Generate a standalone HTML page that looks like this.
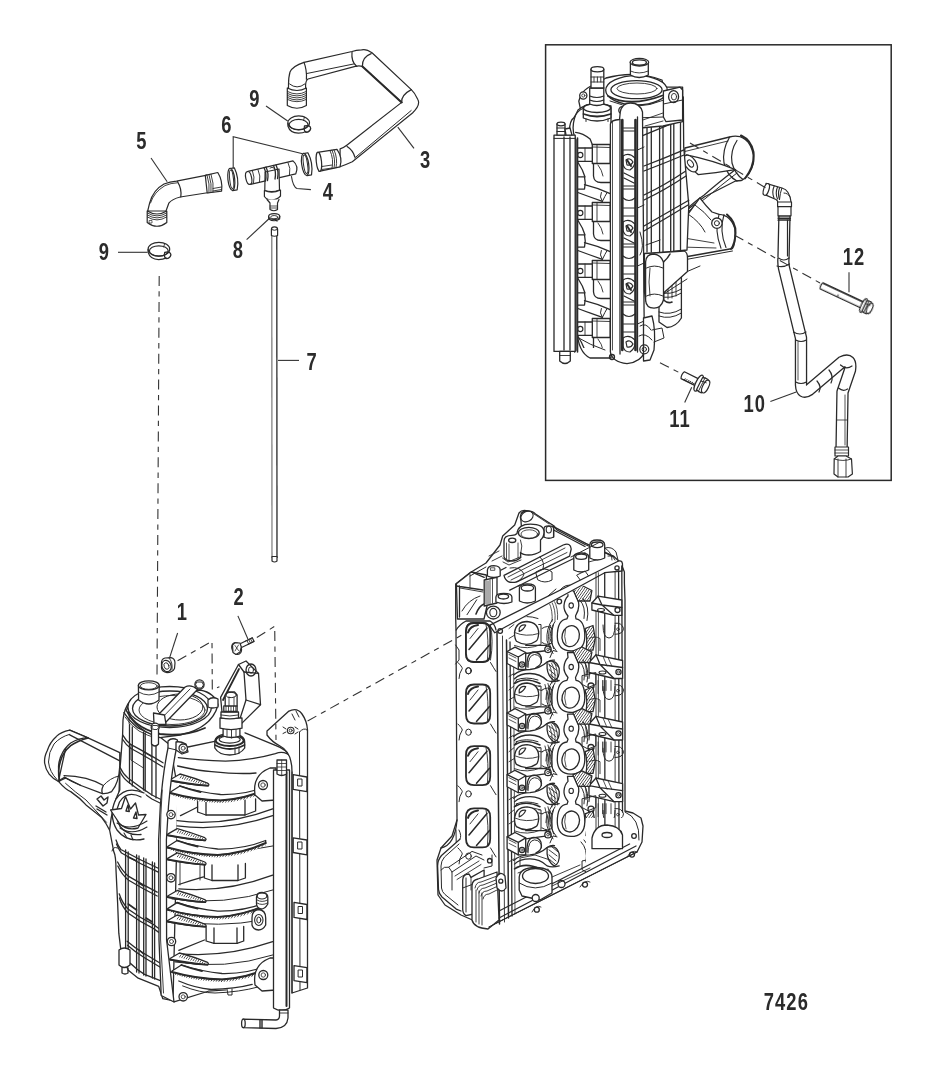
<!DOCTYPE html>
<html><head><meta charset="utf-8">
<style>
html,body{margin:0;padding:0;background:#fff;width:937px;height:1075px;overflow:hidden;}
svg{display:block;}
.lb{font-family:"Liberation Sans",sans-serif;font-weight:bold;font-size:24px;letter-spacing:1.4px;fill:#2b2b2b;filter:grayscale(1);}
.ld{stroke:#333;stroke-width:1.1;fill:none;}
.ds{stroke:#333;stroke-width:1.1;fill:none;stroke-dasharray:10 5.3 5.3 5.3;}
.k{stroke:#2a2a2a;stroke-width:1.2;fill:none;stroke-linejoin:round;stroke-linecap:round;}
.kf{stroke:#2a2a2a;stroke-width:1.2;fill:#fff;stroke-linejoin:round;}
.t{stroke:#333;stroke-width:0.8;fill:none;}
.eng .k,.eng .kf{stroke-width:1.3;}
</style></head>
<body>
<svg width="937" height="1075" viewBox="0 0 937 1075">
<defs><pattern id="hatch" width="2.2" height="2.2" patternUnits="userSpaceOnUse" patternTransform="rotate(35)"><rect width="2.2" height="2.2" fill="#fff"/><line x1="0" y1="0" x2="0" y2="2.2" stroke="#2a2a2a" stroke-width="1.3"/></pattern></defs>
<rect x="0" y="0" width="937" height="1075" fill="#fff"/>
<!-- box -->
<rect x="545.6" y="44.8" width="345.6" height="435.6" fill="none" stroke="#2a2a2a" stroke-width="1.5"/>
<!-- labels -->
<g class="lb">
<text transform="translate(136.3,149.4) scale(0.765,1)">5</text>
<text transform="translate(249.3,106.9) scale(0.765,1)">9</text>
<text transform="translate(221.3,132.6) scale(0.765,1)">6</text>
<text transform="translate(420.1,168.2) scale(0.765,1)">3</text>
<text transform="translate(322.8,199.7) scale(0.765,1)">4</text>
<text transform="translate(232.8,257.7) scale(0.765,1)">8</text>
<text transform="translate(98.8,260.1) scale(0.765,1)">9</text>
<text transform="translate(306.4,369.9) scale(0.765,1)">7</text>
<text transform="translate(176.8,619.9) scale(0.765,1)">1</text>
<text transform="translate(233.6,604.9) scale(0.765,1)">2</text>
<text transform="translate(842.8,265.2) scale(0.765,1)">12</text>
<text transform="translate(743.4,411.9) scale(0.765,1)">10</text>
<text transform="translate(669.3,427.1) scale(0.765,1)">11</text>
<text transform="translate(763.8,1010.1) scale(0.765,1)">7426</text>
</g>
<!-- leaders -->
<g class="ld">
<path d="M151,158 L167.2,181.8"/>
<path d="M118,252.3 L147.5,252.3"/>
<path d="M233.2,168 L233.2,136.6 L302.6,153.8"/>
<path d="M266,106 L287.7,121"/>
<path d="M291.4,176.2 Q293,187 297,188.5 L310.9,189.6"/>
<path d="M269.8,218 L246.6,239.7"/>
<path d="M397.8,127.1 L414,148.4"/>
<path d="M278,360.4 L299,360.4"/>
<path d="M177.6,633 L169.4,658.4"/>
<path d="M237.9,615.9 L247.9,639"/>
<path d="M849,272.3 L849,292.2"/>
<path d="M691.7,387.3 L684.7,402.6"/>
<path d="M770.4,401.4 L796.2,392"/>
</g>

<!-- hose 3 -->
<g class="k">
<path class="kf" d="M340,166.8 Q345,165 352.3,161.7 L412.5,113 Q421,105 417.7,99.2 Q415,93 411.3,89.6 L372,52.8 Q366,48.5 361.6,49.9 Q356,50 352,51.5 L304,62.4 Q292.8,66 290,72 Q288.5,77 288.5,85 L288.5,92 L305.6,92 L305.6,84.8 Q306,80 308,79 L355.2,66.4 Q359,65.5 362.4,66.4 L401.7,102.4 L347.1,145 Q344,147.5 340.1,148.9 Z"/>
<path d="M306.4,73.6 L353.6,64" stroke-width="1"/>
<path d="M304,62.4 Q307,70 306.4,79.2"/>
<path d="M352,52 Q351,62 356.8,66.4"/>
<path d="M371.2,53.6 Q362,57 362.4,66.4"/>
<path d="M411.3,89.6 Q401,95 401.7,102.4"/>
<path d="M347.1,146.4 Q353,150 354.8,157"/>
<path d="M354.8,157.9 L411.2,110.5" stroke-width="1"/>
<path d="M362.4,66.4 L401.7,102.4" stroke-width="2"/>
<path d="M289.6,84 Q297,90 304.8,84" stroke-width="1"/>
<!-- top-left connector -->
<path class="kf" d="M287.3,88 L287.3,105.5 Q297,111 306.4,105.5 L306.4,88 Q297,93 287.3,88 Z"/>
<path d="M287.5,91.5 Q297,96.5 306.2,91.5 M287.5,93.5 Q297,98.5 306.2,93.5 M287.5,95.5 Q297,100.5 306.2,95.5 M287.5,97.5 Q297,102.5 306.2,97.5 M287.5,99.5 Q297,104 306.2,99.5" stroke-width="0.9"/>
<!-- bottom connector -->
<path class="kf" d="M319,152.2 L337,149.4 Q343,158 340,166.8 L319,171.3 Z"/>
<ellipse class="kf" cx="318.9" cy="161.7" rx="2.6" ry="9.7" transform="rotate(-6 318.9 161.7)"/>
<path d="M330,150.5 Q334,159 332,168.7 M332,150.2 Q336,159 334,168.3 M334,149.8 Q338,158.5 336,167.8" stroke-width="0.9"/>
<path d="M322,166.5 L332,165 M322,169.5 L332,168" stroke-width="0.9"/>
</g>
<!-- hose 5 -->
<g class="k">
<path class="kf" d="M147.7,211 L149.6,203.2 Q153,190 164,184 Q170,181.5 176.5,181.1 L207,175.1 L209,192.5 L180.3,197 Q172,199 168.8,203.2 L166,211 Z"/>
<path d="M177.5,181.6 Q182,189 180.8,197"/>
<path d="M150.5,203 Q154,192 165,185.6 Q171,183 177,182.8" stroke-width="0.9"/>
<path class="kf" d="M147.2,211 L147.2,222.5 Q157,230 166.8,222.5 L166.8,211 Q157,217 147.2,211 Z"/>
<path d="M147.4,213 Q157,219 166.6,213 M147.4,215 Q157,221 166.6,215 M147.4,217 Q157,223 166.6,217" stroke-width="0.9"/>
<rect x="149.5" y="220.5" width="2.5" height="2.5" stroke-width="0.7"/>
<path class="kf" d="M205.3,175.4 L217.8,172.5 Q223,181 221.6,191.2 L207.2,193 Z"/>
<path d="M207,175 Q210,184 209,192.8 M209,174.6 Q212,184 211,192.5 M211,174.2 Q214,183 213,192.2" stroke-width="0.9"/>
<path d="M213,188.5 L221.5,187 M213,191 L221.5,189.5" stroke-width="0.9"/>
</g>
<!-- rings 6 -->
<g class="k">
<path class="kf" d="M231,168.2 L235.5,168 Q239.5,179 236,190.3 L231.5,190.5 Z" transform="rotate(-6 233.2 179.3)"/>
<ellipse class="kf" cx="231.3" cy="179.3" rx="3.4" ry="11.1" transform="rotate(-6 231.3 179.3)"/>
<ellipse cx="231.6" cy="179.3" rx="1.9" ry="9.3" transform="rotate(-6 231.6 179.3)" stroke-width="1"/>
<path class="kf" d="M305,153.2 L309.5,153 Q313.5,164 310,175.3 L305.5,175.5 Z" transform="rotate(-8 307.1 164.2)"/>
<ellipse class="kf" cx="305.2" cy="164.3" rx="3.5" ry="11.1" transform="rotate(-8 305.2 164.3)"/>
<ellipse cx="305.5" cy="164.3" rx="2" ry="9.3" transform="rotate(-8 305.5 164.3)" stroke-width="1"/>
</g>
<!-- T fitting 4 -->
<g class="k">
<path class="kf" d="M248,171.4 L293,160.9 Q299,166 295.8,173.8 L250.5,184.3 Z"/>
<ellipse class="kf" cx="248.7" cy="177.9" rx="2.9" ry="6.5" transform="rotate(-12 248.7 177.9)"/>
<path d="M252.5,171 Q255,177 253.5,183.5 M258,169.5 Q261,176 259.5,182.5 M288,162.5 Q291,168 289.5,175" stroke-width="0.9"/>
<path class="kf" d="M265.1,172 L279,169 L279.5,190 Q272,193 264.8,190.5 Z"/>
<path class="kf" d="M264.4,190.5 Q272,194 280.5,190 L280.5,196 Q277,200 272,200 Q267,200 264.4,196.5 Z"/>
<path class="kf" d="M267,199.5 L270,203 L270,209.5 Q274,212 277.5,209.5 L277.5,203 L279,199.5"/>
<path d="M270,206 L277.5,206 M270,208 L277.5,208" stroke-width="0.8"/>
<path d="M264,167.5 Q267,174 265.5,181 M266,167 Q269,173.5 267.5,180.5 M273.5,165.5 Q276.5,172 275,179 M276,165 Q279,171.5 277.5,178.5" stroke-width="1.3"/>
<path d="M270,168 Q272,166.5 274,168" stroke-width="0.9"/>
</g>
<!-- clamps 9 -->
<g class="k" id="clamp9">
<ellipse cx="298.7" cy="122.8" rx="10.8" ry="6.9"/>
<ellipse cx="298.6" cy="124.6" rx="9.4" ry="5.2"/>
<path d="M287.9,123 L287.9,126 Q290,133 298.4,133.2 Q303,133 306,131.5"/>
<path d="M304.5,126 Q310.5,124.5 310.7,128.5 Q310,132 306,132.3 Q303.5,131 304.5,126 Z" stroke-width="1.3"/>
<path d="M304.5,117 L303.5,120.5" stroke-width="0.9"/>
</g>
<use href="#clamp9" transform="translate(-139.8,126.4)"/>
<!-- clamp 8 -->
<g class="k">
<ellipse cx="274.2" cy="216.5" rx="5.6" ry="2.9"/>
<ellipse cx="274.2" cy="217.2" rx="3.6" ry="1.7" stroke-width="0.9"/>
<path d="M268.6,216.5 L268.8,219 Q274,222.5 279.6,219 L279.8,216.5"/>
<path d="M275,218.5 L277,221.5" stroke-width="0.9"/>
</g>
<!-- rod 7 -->
<g>
<path d="M271.8,236 L272,558" stroke="#6a6a6a" stroke-width="1.1" fill="none"/>
<path d="M276.8,236 L277,558" stroke="#2a2a2a" stroke-width="1.3" fill="none"/>
<path d="M271.4,229.5 Q271.4,226.8 274.4,226.8 Q277.6,226.8 277.6,229.5 L277.6,235.5 Q274.4,237 271.4,235.5 Z" class="kf" stroke-width="1.4"/>
<path d="M271.6,229.5 Q274.4,231 277.4,229.5" stroke-width="1" stroke="#2a2a2a" fill="none"/>
<path d="M272,556.5 L272,561 Q274.5,563 277,561 L277,556.5 Z" class="kf" stroke-width="1"/>
</g>
<g class="eng">
<!-- ===== lower-left engine ===== -->
<g class="k" id="engL">
<!-- intake tube + Y neck -->
<path class="kf" d="M58.4,781.4 Q66,790 70.7,791.6 Q80,798 86,804.9 L101.4,817.2 Q106,823 109.5,830 L118,830 L120,760 L119.8,752.7 Z"/>
<path d="M65.6,783.4 Q75,792 86,800 L106.5,822.3" stroke-width="1"/>
<path class="kf" d="M69.7,730.2 L88,737.9 L119.8,752.7 L119.8,766 Q119,783 111.6,791.6 Q107,794 102.4,793.6 L80.9,785.5 L64.5,777.3 Q61,779 58.4,781.4 Z"/>
<path class="kf" d="M69.7,730.2 Q61,732 56.4,736.4 Q50,742 47.2,750.7 Q44,757 44.6,763 Q45.5,769 49.2,774.2 Q53,779 58.4,781.4 Q60,779 59.4,775 Q57,767 60.5,757 Q64,748 70.7,743 Q79,738 88,737.9 Z"/>
<path d="M69.7,734.3 Q60,737 54,744 Q48.5,752 48.5,762 Q49.5,772 57,779.5" stroke-width="1"/>
<path d="M88,737.9 Q77,741 70.7,745.6 Q63,752 60.5,761 Q57.5,770 59.4,781.4" stroke-width="1.6"/>
<path d="M69.7,734.8 L119.8,760.9"/>
<path d="M64,775.7 Q75,776 86,778.3 Q96,781 103.4,785.5 Q101,790 102.4,793.6"/>
<path d="M64.5,777.3 Q72,782 80.9,785.5"/>
<path d="M103.4,785.5 Q110,778 118.7,776" stroke-width="1"/>
<path d="M97,799 L101,796 L104,800 L108,797 L107,803 L103,806 Z M96,806 L106,812 M97,809 L107,815" stroke-width="1.4"/>
<!-- left ribbed body -->
<path class="kf" d="M130.9,700 Q124,708 123,720 L122.6,734.9 L120.5,762.8 L119.8,770 L119.8,790 Q112,805 109.6,830 L113.7,851.4 Q116,856 116,870 L117.6,902.5 L118.8,933.2 L120.8,949.6 L128,970 L138.2,978.2 L158.7,986.4 L162.8,998.7 L173,1000.7 L178,790 L170,745 L160,737 Z"/>
<!-- upper cage -->
<path d="M124,712.6 Q130,722 137.9,727.9 Q147,733 156,734.9"/>
<path d="M125,717 Q131,726 139,731 Q148,736 156,738" stroke-width="0.9"/>
<path d="M122.6,734.9 Q126,741 131,744.7 Q145,752 163,762.8"/>
<path d="M122.3,739 Q126,745 131,748.5 Q145,756 163,767"/>
<path d="M119.8,767 Q123,774 128.2,778.2 Q140,787 151.9,795 L163,800.5"/>
<path d="M119.6,771 Q123,778 128.2,782 Q140,791 151.9,799 L163,804.5"/>
<path d="M129.5,725 L129.5,783 M132.3,727 L132.3,786 M143.5,732 L143.5,790 M145.2,733 L145.2,791 M151.9,735 L151.9,795 M156,737 L156,798"/>
<path d="M131,744.7 L131,760 L143.5,768 M143.5,752 L152,757" stroke-width="0.9"/>
<path d="M130,712 Q128,722 129.5,725" stroke-width="0.9"/>
<!-- lower cage -->
<path d="M116,840 Q118,846 120.8,849.5 Q140,860 158.8,868.5"/>
<path d="M116.5,844 Q119,850 121.5,853 Q140,864 158.8,872.3"/>
<path d="M117.6,862 Q122,871 128.7,876.4 Q143,885 157.2,892.2"/>
<path d="M117.8,866 Q122,875 128.7,880.3 Q143,889 157.2,896"/>
<path d="M119.2,893.8 Q122,903 128.7,909.6 Q140,918 152.4,923.8 L158.8,928.5"/>
<path d="M119.5,898 Q122,907 128.7,913.6 Q140,922 152.4,927.8 L158.8,932.4"/>
<path d="M127.1,941.2 Q135,948 144.5,953.8 L160.3,963.3"/>
<path d="M127.5,945.3 Q135,952 144.5,957.8 L160.3,967.3"/>
<path d="M130.3,963.3 Q137,970 144.5,974.4 L160.3,980.7"/>
<path d="M125.6,850 L125.6,965 M128.2,852 L128.2,966"/>
<path d="M136.6,855 L136.6,972 M139,856 L139,973"/>
<path d="M143.7,858 L143.7,975 M146,859 L146,976"/>
<path d="M152.4,862 L152.4,978 M154.6,863 L154.6,979"/>
<path d="M128.2,857 L136.6,861 M139,883 L143.7,886 M128.2,904 L136.6,910 M146,918 L152.4,922 M139,950 L143.7,954" stroke-width="1.6"/>
<path d="M117.5,848 Q113,846 112,851" stroke-width="1"/>
<!-- logo -->
<path class="kf" d="M145,793 Q126,784 116,799 Q108,815 117,830 Q127,843 145,839 Q155,825 150,805 Z" style="stroke:none"/>
<path d="M144,793 Q126,785 116,799 Q108,815 117,830 Q127,843 144,839"/>
<path d="M141,797 Q127,790 119.5,802 Q113.5,815 120,826.5 Q128,836 141,834.5"/>
<path class="kf" d="M110.5,810 L121.5,808.5 L125.5,796.5 L130.5,809 L135.5,803 L138.5,815 L146,814.5 L138,828 Q127,831 119.5,823.5 Z" stroke-width="1.1"/>
<path d="M126,811 L128,805 L129.3,811.5 Z M133.5,818 L136,812 L137,818.5 Z" stroke-width="1.4"/>
<path d="M117,823 Q130,832 147,821 M120,828 Q132,836 147,827 M124,833 L127,838 M131,835 L133,840" stroke-width="1.1"/>
<!-- fitting lower left -->
<path class="kf" d="M119,950 L119,965 Q124,970 130,965 L130,950 Q124,946 119,950 Z"/>
<path d="M122,968 L122,973 Q125,975 128,973 L128,968"/>
<!-- dome / top cover -->
<path class="kf" d="M126.4,710.8 Q130,698 142,694 L200,690 Q215,693 218,705 Q212,728 180,735 L160,737.7 Q135,730 126.4,710.8 Z"/>
<ellipse class="kf" cx="169.7" cy="707" rx="41.8" ry="20.5"/>
<ellipse cx="170" cy="708.5" rx="37.5" ry="17.5"/>
<ellipse cx="172" cy="710" rx="33" ry="14.5" stroke-width="0.9"/>
<ellipse cx="180" cy="707" rx="23" ry="13" stroke-width="1"/>
<path d="M128,712 Q135,728 160,734 Q185,737 205,728" stroke-width="1.8"/>
<!-- strap across cap -->
<path class="kf" d="M154.2,719 L185.1,687 Q191,684 197.5,689.5 L164.8,723.2 Z"/>
<path d="M158.5,721.5 L190,689" stroke-width="0.9"/>
<path class="kf" d="M153.5,713 L164.5,715 L166,724.3 L154,724.3 Z" stroke-width="1.1"/>
<circle class="kf" cx="199.5" cy="684.5" r="4.6"/>
<path d="M197,682 L202,682 L203.5,685 L201.5,688 L197.5,688 L195.8,685 Z" stroke-width="1"/>
<circle class="kf" cx="155.2" cy="727.2" r="4"/>
<path d="M153,725.5 L157.5,725.5 L158.5,727.5 L157,729.5 L153.5,729.5 L152.2,727.5 Z" stroke-width="0.9"/>
<path class="kf" d="M151.5,730 L151.5,744 Q155,748 158.5,744 L158.5,730"/>
<!-- nipple -->
<path class="kf" d="M138.4,685.4 L138.6,700 Q149,708 159,700 L159.2,685.4 Z"/>
<ellipse class="kf" cx="148.8" cy="685.4" rx="10.4" ry="4.5"/>
<ellipse cx="148.8" cy="686" rx="8.4" ry="3.3" stroke-width="0.9"/>
<path d="M138.6,692 Q149,698 159,692" stroke-width="0.9"/>
<!-- bracket for bolt 2 -->
<path class="kf" d="M220.6,697.4 L238.5,664.5 L246,661 L258.5,673.4 L260.5,704.7 L248.8,716.4 L237,728 L222,712 Z"/>
<path d="M238.5,664.5 L244,672 L246,700 L237,728" />
<path d="M244,672 L258.5,673.4 M246,700 L260.5,704.7"/>
<ellipse cx="251" cy="670" rx="5" ry="6"/>
<ellipse cx="251" cy="670" rx="2.5" ry="3.2" stroke-width="0.9"/>
<path d="M223,700 L239,669" stroke-width="1.8"/>
</g>
<g class="k" id="engL2">
<!-- drum body fill -->
<path class="kf" d="M182,745 L215.8,741.1 L245,732.8 L275.4,745.3 Q288,750 292,757.7 L292,1000 L272,1000 L252.2,988 Q230,992 211.2,991 L178.8,984 L176,780 Z" style="stroke:none"/>
<!-- top face -->
<path d="M183.2,748 L215.8,741.1"/>
<path d="M245,732.8 L275.4,745.3 Q285,748.5 292,757.7"/>
<path d="M178.3,757.7 Q200,760.5 225.5,761.2 Q253,760 275.4,753.6 Q285,750 292,757.7"/>
<path d="M177.6,766 Q200,771 211.6,771.6 Q239,774.5 256,773"/>
<!-- lobe 1 fins -->


<!-- hex boss 1 -->
<path d="M197.6,798.5 L197.6,812 L206,815 L245,815 L255.6,811 L255.6,799"/>
<path d="M206,800 L206,815 M245,800 L245,815"/>
<!-- lobe 2 -->
<path d="M180.5,815.6 Q190,811 197.6,807"/>
<path d="M177,820.7 Q225,827 272.7,808.8"/>
<path d="M177,825.9 Q225,832 272.7,815.6"/>

<path d="M174,850 Q215,858 272.7,846" stroke-width="1"/>
<!-- hex boss 2 -->
<path d="M204.4,863.4 L204.4,878 L212,880.5 L238,880.5 L245.4,878 L245.4,863.4"/>
<path d="M212,865 L212,880.5 M238,865 L238,880.5"/>
<path d="M180,862 L180,885 M200,862 L200,880" stroke-width="0.9"/>
<!-- lobe 3 -->
<path d="M178.8,884.5 Q192,880 203.5,876.8"/>
<path d="M178.8,888.8 Q225,893 272.7,875.1"/>
<path d="M172,899 Q225,906 272.7,890" stroke-width="1"/>

<path d="M172,921 Q220,928 262,920" stroke-width="1"/>
<!-- hex boss 3 -->
<path d="M206.1,926.4 L206.1,941 L214,943.4 L237,943.4 L243.7,941 L243.7,926.4"/>
<path d="M214,928 L214,943.4 M237,928 L237,943.4"/>
<!-- lobe 4 -->
<path d="M178.8,950.3 Q192,945 204.4,940"/>
<path d="M178.8,953.7 Q225,958 272.7,941.7"/>
<path d="M175,962 Q225,970 272.7,955" stroke-width="1"/>

<path d="M178.8,981 Q195,988 211.2,989.5 Q235,989 252.2,984.4"/>
<path d="M174,1001.9 L208.2,991.2 L226,990" stroke-width="1.2"/>
<path d="M182.6,985.9 Q200,993 215,993 Q240,992 258,987" stroke-width="1"/>
<path d="M227,989 L228,995 L232,995 L232,989" stroke-width="1"/>
<defs>
<g id="finS" class="k">
<path class="kf" d="M0,0 L9.5,-5.5 Q24,-1.5 37,3.6 Q39.5,5.2 37.5,6.4 Q20,5.2 0,1.4 Z"/>
<path d="M9.5,-4.6 Q24,-0.4 35.5,3.8 L35,5.6 Q22,2.5 8,-1.6 Z" style="fill:url(#hatch);stroke:none"/>
<path d="M0,1 Q20,5 37.5,6.2" stroke-width="1.8"/>
</g>
<g id="finL" class="k">
<path class="kf" d="M0,0 L9.4,-6 Q30,0.5 50,2.5 Q75,3 98,-6 L98,-3 Q75,7 50,8.5 Q25,8 0,1.4 Z"/>
<path d="M2,2 Q25,8.5 50,9 Q75,7.5 98,-3.3 L98,-1.2 Q75,10 50,11 Q25,10.5 2,3.5 Z" style="fill:url(#hatch);stroke:none"/>
<path d="M0,1 Q25,8 50,8.5 Q75,7 98,-3.5" stroke-width="2"/>
<path d="M9.4,-6 Q20,-2 30,0" stroke-width="1.8"/>
</g>
</defs>
<use href="#finS" transform="translate(170.5,779.5)"/>
<use href="#finL" transform="translate(170.5,792)"/>
<use href="#finS" transform="translate(167.7,834.1)"/>
<use href="#finL" transform="translate(167.7,846.5)"/>
<use href="#finS" transform="translate(167.7,858.4)"/>
<use href="#finS" transform="translate(167.7,896)"/>
<use href="#finL" transform="translate(167.7,908.6)"/>
<use href="#finS" transform="translate(167.7,920.5)"/>
<use href="#finS" transform="translate(170,958.5)"/>
<use href="#finL" transform="translate(172,971)"/>
<!-- right bosses & bolts -->
<path class="kf" d="M255,795 Q252,775 270,768 L276,768 L276,800 L262,801 Z"/>
<circle class="kf" cx="263" cy="785" r="4.5"/><circle cx="263" cy="785" r="2.2" stroke-width="0.8"/>
<path class="kf" d="M255,985 Q252,965 270,958 L276,958 L276,990 L262,991 Z"/>
<circle class="kf" cx="263.3" cy="975" r="4.5"/><circle cx="263.3" cy="975" r="2.2" stroke-width="0.8"/>
<!-- right fitting -->
<path class="kf" d="M252,918 Q252,910 258.5,909.5 Q265.7,910 265.7,918 L265.7,925 Q263,930 258.5,930 Q253,929.5 252,925 Z"/>
<ellipse cx="258.8" cy="920" rx="4.2" ry="5.5" stroke-width="1.1"/>
<ellipse cx="258.8" cy="920" rx="2" ry="3" stroke-width="1"/>
<path class="kf" d="M256.5,897 Q257,892.4 262,892.4 Q267.8,893 267.8,897 L267.8,904 Q265,909 261,909 Q257,908 256.5,904 Z"/>
<ellipse cx="262" cy="896" rx="4.8" ry="3" stroke-width="1.1"/>
<path d="M257,900 Q262,903 267.5,900 M257,903 Q262,906 267.5,903" stroke-width="0.9"/>
<!-- right flange (gasket frame) -->
<path class="kf" d="M267,731 L288.4,711.4 Q297,707 302,714 Q307,721 307.5,730 L307.5,988 L292,993 L292,772 Q292,752 280,746 Q272,742 267,735 Z"/>
<path d="M299.5,732 L300,990" stroke-width="1"/>
<path d="M292,772 L292,993" stroke-width="1"/>
<path d="M292,714 L295,720 M296,711 L299,717 M299.5,732 Q304,727 307,730" stroke-width="1"/>
<circle cx="290.7" cy="730.5" r="3.3" stroke-width="1.1"/><circle cx="290.7" cy="730.5" r="1.5" stroke-width="0.9"/>
<path d="M283,727 L286,729 M283,733.5 L286,732 M295,727 L298,729 M295,734 L298,732" stroke-width="1"/>
<g stroke-width="1">
<path class="kf" d="M293.2,774.6 L306.9,777 L306.9,791.7 L293.2,789.3 Z"/><rect x="298" y="779" width="4" height="7"/>
<path class="kf" d="M293.2,837.8 L306.9,840 L306.9,854.9 L293.2,852.5 Z"/><rect x="298" y="842" width="4" height="7"/>
<path class="kf" d="M294,902.4 L306.9,904.5 L306.9,919.5 L294,917.4 Z"/><rect x="298.5" y="906.5" width="4" height="7"/>
<path class="kf" d="M294,965.6 L306.9,967.7 L306.9,982.7 L294,980.6 Z"/><rect x="298.5" y="970" width="4" height="7"/>
</g>
<!-- fuel rail -->
<path class="kf" d="M273.5,770 L289.5,770 L289.5,1008 Q281.5,1013 273.5,1008 Z"/>
<path d="M286.5,772 L286.5,1006" stroke-width="2"/>
<path class="kf" d="M277,760 L286.5,760 L286.5,774 Q281.5,777 277,774 Z"/>
<path d="M277,763.5 L286.5,763.5 M277,767 L286.5,767 M277,770.5 L286.5,770.5 M281.7,760 L281.7,775" stroke-width="0.8"/>
<!-- elbow at bottom -->
<path class="kf" d="M279.5,1010 L288,1010 L288,1018 Q287,1028 276,1028.5 L243,1027.6 L243,1019.2 L276,1020 Q279.5,1019.5 279.5,1016 Z"/>
<ellipse class="kf" cx="243.4" cy="1023.4" rx="1.8" ry="4.2"/>
<path d="M260,1019.6 L260,1028 M262,1019.6 L262,1028" stroke-width="1.4"/>
<path d="M279.5,1013 L288,1013" stroke-width="0.9"/>
</g>
<g class="k">
<!-- regulator -->
<path class="kf" d="M214.8,742 Q215,733.8 229.7,733.8 Q244.7,734 244.7,742 L244.7,748 Q240,755 229.7,755 Q219,755 214.8,748 Z"/>
<ellipse cx="229.7" cy="740.5" rx="14" ry="5.5" stroke-width="2"/>
<ellipse cx="229.7" cy="739.5" rx="10.5" ry="3.6" stroke-width="1.1"/>
<path d="M215,745 Q229.7,753 244.5,745" stroke-width="1.8"/>
<path d="M235,748 L235,754.5 M239,747 L239,753.5" stroke-width="1"/>
<path class="kf" d="M223.1,728.2 L239.9,728.2 L239.9,736 Q231.5,739 223.1,736 Z"/>
<path d="M227,729 L227,737 M231.5,729 L231.5,738 M236,729 L236,737" stroke-width="0.9"/>
<path class="kf" d="M220,718 L242,718 L242,728.2 Q231,731 220,728.2 Z"/>
<path class="kf" d="M221,712 L238.5,712 L238.5,717.8 Q230,720 221,717.8 Z"/>
<path d="M221,715 Q230,717 238.5,715" stroke-width="0.9"/>
<path class="kf" d="M223.8,705.9 L237.1,705.9 L237.1,711.5 L223.8,711.5 Z"/>
<path d="M226,706 L226,711.5 M228.5,706 L228.5,711.5 M231,706 L231,711.5 M233.5,706 L233.5,711.5 M235.8,706 L235.8,711.5" stroke-width="0.8"/>
<path class="kf" d="M225.2,695 L228,692 L234.5,692 L237.1,695 L237.1,705.9 L225.2,705.9 Z"/>
<ellipse cx="231.2" cy="695" rx="5.2" ry="2.6" stroke-width="1"/>
<path d="M229,697 L229,705.9 M234,697 L234,705.9" stroke-width="0.8"/>
<path class="kf" d="M208,700 Q212,696 218,699 L218,707 Q212,709 208,707 Z"/>
<!-- left vertical strap (gasket) -->
<path class="kf" d="M168,741 Q172,737 177.5,740 L176.5,748 Q171.5,772 168.5,806 L166.4,840 L166.6,940 L174,1002 L161.2,995.5 L159,940 L158.6,840 L160.3,806 Q163,772 168,748 Z"/>
<path d="M162.2,790 Q160.5,815 160.3,840 L160.6,940 L163.5,993" stroke-width="0.9"/>
<path d="M168,748 L176.5,750" stroke-width="1"/>
<path class="kf" d="M176,742 Q180,741 186,744 L188,752 L182,754 L176,750 Z" stroke-width="1"/>
<circle class="kf" cx="183.2" cy="748.2" r="4.2"/><circle cx="183.2" cy="748.2" r="2" stroke-width="0.8"/>
<circle class="kf" cx="171" cy="814.6" r="4.2"/><circle cx="171" cy="814.6" r="2" stroke-width="0.8"/>
<circle class="kf" cx="171" cy="877.8" r="4.2"/><circle cx="171" cy="877.8" r="2" stroke-width="0.8"/>
<circle class="kf" cx="171.5" cy="941.5" r="4.2"/><circle cx="171.5" cy="941.5" r="2" stroke-width="0.8"/>
<circle class="kf" cx="183.2" cy="996.8" r="4.2"/><circle cx="183.2" cy="996.8" r="2" stroke-width="0.8"/>
</g>
<!-- ===== cylinder head ===== -->
<g class="k" id="head">
<!-- silhouette -->
<path class="kf" d="M519,513 Q522,509 528,511 L554,526 L557,530 L585,544.5 L613.8,556.5 L621,563 L624.4,572 L624.4,583 L625,600 L625,811 L633,813 L641,818 L643,826 L642,842 L637,852 L488.7,927 L477,922 L461,915 L445,905 L438,895 L437,860 L441,848 L452,836 L457,820 L456,630 L455.7,618 L455.7,584 L470,572.8 L486,563 L500,545 L502.7,536 L514.7,525 Z"/>
<!-- top cap -->
<path d="M552,525.8 L585.7,543.4 L613.8,556.5 M553.6,530 L585,546.5" stroke-width="1.4"/>
<path class="kf" d="M521,521 Q518.5,512 526,511 Q532,510.5 535.5,514 L553.6,525.8 L553.6,537 L522,536 Z"/>
<ellipse cx="527" cy="516.5" rx="6.5" ry="5" transform="rotate(-30 527 516.5)" stroke-width="1.1"/>
<path d="M531,512 L549,524" stroke-width="0.9"/>
<path class="kf" d="M544,528.5 Q544,525.8 548.8,525.8 Q553.6,525.8 553.6,528.5 L553.6,537 Q548.8,539.5 544,537 Z"/>
<ellipse cx="548.8" cy="529.6" rx="2.6" ry="3.4" stroke-width="1.1"/>
<path class="kf" d="M504,541 Q504,535.4 512,535.4 Q515.5,535.4 517,533.5 Q518,524.2 530.4,524.2 Q544,524.2 544,532 Q544,537 540.5,540 L540.5,551.5 Q535,555 528.5,555 Q523,555 520.5,552.5 L520.8,557.5 Q517,561 512,561 Q505.5,561 504,557 Z"/>
<ellipse cx="528.8" cy="533" rx="10.4" ry="5.6"/>
<ellipse cx="529.3" cy="534" rx="8.3" ry="4.2" stroke-width="0.8"/>
<ellipse cx="512.2" cy="540.3" rx="3.6" ry="2.2"/>
<path d="M506.5,543 L506.5,559 M509,544 L509,560.5 M518,543 L518,559" stroke-width="0.8"/>
<path d="M520.5,540 Q523,546 521,552" stroke-width="0.9"/>
<path d="M502.5,558 L508,562 L520,557 M503,562 L509,565 L521,560" stroke-width="0.9"/>
<!-- long ridge -->
<path class="kf" d="M504,575.4 L563.2,545 Q570.5,542 571.2,549 L569.6,556.2 L516.8,581.8 Q506,584.5 504,575.4 Z"/>
<path d="M508,577 L565,548 M511,580 L567,552.5" stroke-width="0.9"/>
<path d="M540,557 Q545,562 543,569" stroke-width="1"/>
<!-- top diagonal rails -->
<path d="M501.2,570 L506,567.5"/>
<path d="M518.3,586 L550,570 L585,553"/>
<path d="M509.8,590.2 L520,585"/>
<path d="M510,568 Q520,566 524,574 Q522,580 516,582" stroke-width="1"/>
<!-- top-left box -->
<path class="kf" d="M456.4,583.8 L471.3,572 L486.3,575 L487,606 L484,619 L457.5,619 Z"/>
<path d="M459.5,586 L459.5,617 M456.4,586 L483,590 M471.3,572 L484.2,577.4"/>
<path d="M460,588 L483,592 M470,574.5 L470,588" stroke-width="0.9"/>
<path d="M467,614.7 L476.7,599.8 M462,611 Q468,600 480,596" stroke-width="1"/>
<path d="M476,614 Q479,606 484,604" stroke-width="1.6"/>
<!-- left post & bosses -->
<path class="kf" d="M487.4,570 Q488,565.6 493.8,565.6 Q500.2,566 500.2,570 L500.2,576 Q494,579 487.4,576 Z"/>
<rect x="490.8" y="567.8" width="4" height="2.5" stroke-width="0.8"/>
<path class="kf" d="M484.2,580 L497,577.4 L497,603 L484.2,606 Z"/>
<path d="M486,581 L486,604 M488,581 L488,604 M490,580 L490,604 M492.5,579 L492.5,603" stroke-width="0.8"/>
<ellipse class="kf" cx="493.3" cy="612.6" rx="6.9" ry="6.4"/>
<ellipse cx="493.3" cy="612.6" rx="3.5" ry="4.2" stroke-width="1.1"/>
<path class="kf" d="M495.9,597 Q496,593.4 503.9,593.4 Q511.9,593.4 511.9,597 L511.9,602 Q504,605 495.9,602 Z"/>
<ellipse cx="503.4" cy="596.6" rx="5.2" ry="2.4"/>
<path class="kf" d="M519.4,588 Q520,583.8 527.4,583.8 Q535.4,583.8 535.4,588 L535.4,601 Q527,605 519.4,601 Z"/>
<ellipse cx="527.4" cy="588" rx="6.2" ry="3"/>
<path class="kf" d="M573.8,557 Q574,553 581,553 Q588.7,553 588.7,557 L588.7,570 Q581,574 573.8,570 Z"/>
<ellipse cx="581.2" cy="556.8" rx="5.6" ry="2.6"/>
<path class="kf" d="M589.8,545 Q590,540 597,540 Q604.7,540 604.7,545 L604.7,558 Q597,562 589.8,558 Z"/>
<ellipse cx="597.2" cy="544.8" rx="5.8" ry="2.8"/>
<path d="M604.7,548 Q612,552 612,560 M588.7,562 L596,560" stroke-width="0.9"/>
<!-- extra top details -->
<path d="M571,557 L600,542" stroke-width="1"/>
<path d="M605,548 Q612,546 616,552 L618,560 M608,556 Q613,555 615,560" stroke-width="1"/>
<path d="M536,572 Q545,566 552,572 L552,580 Q545,584 538,580 Z" stroke-width="1"/>
<path d="M560,590 Q566,583 573,586 L575,596 M548,596 L556,589" stroke-width="1"/>
<path d="M577,575 L585,571 L590,578 L583,583 Z" stroke-width="1"/>
<path d="M489,556 L499,551 M492,561 L502,556" stroke-width="0.9"/>
<path d="M470,576 L486,567" stroke-width="1"/>
<!-- gasket frame band (top) -->
<path class="kf" d="M489.5,625.4 L618.6,561 Q623,560 622.5,566 L622,571 L604.7,572.7 L494.8,632.8 Z"/>
<circle cx="500.2" cy="631" r="2.3"/>
<circle cx="559.3" cy="601.5" r="2.3"/>
<circle cx="617" cy="567.9" r="2.1"/>
<!-- left rail -->
<path d="M497,632 L499.5,924" stroke-width="1.5"/>
<path d="M502.5,636 L504.5,922" stroke-width="0.9"/>
<path d="M506.5,640 L508.5,918" stroke-width="1.5"/>
<path d="M510,642 L512,916"/>
<path d="M513.6,654 L515,914" stroke-width="0.8"/>
<!-- right rail -->
<path d="M596,572.7 L596,842" stroke-width="0.9"/>
<path d="M598.4,572.7 L598.4,842" stroke-width="0.8"/>
<path d="M604.7,572.7 L604.9,838"/>
<path d="M615.1,572 L615.1,836" stroke-width="0.9"/>
<path d="M618.6,571 L619,834"/>
<path d="M621.8,566 L622.5,812"/>
<!-- right top block -->
<path class="kf" d="M591.9,603 L598,596.2 L621.8,600 L621.8,615.4 L614,615.4 L591.9,610 Z"/>
<path d="M598,596.2 L602,605 L621.8,607.5 M602,605 L591.9,603 M602,605 L614,615.4"/>
<circle cx="617.5" cy="610" r="2.5"/>
<ellipse cx="601" cy="610" rx="3.5" ry="1.5" stroke-width="1.1"/>
<!-- left port flange -->
<path d="M456.2,630 Q460,624 466,621 L490,621 Q495,624 496,630"/>
<path d="M490.2,625 Q494,640 490.5,660" stroke-width="0.9"/>
<path class="kf" d="M466,631.5 Q466,623 474,623 L482.5,623 Q490.2,623 490.2,631.5 L490.2,653.5 Q490.2,662 482.5,662 L474,662 Q466,662 466,653.5 Z" style="stroke-width:1.8"/>
<path d="M468,632.5 Q470,626 478,625" stroke-width="2"/>
<path d="M469,649.5 L487,628" stroke-width="1.5"/>
<path d="M476.5,660 L489.5,645" stroke-width="1.5"/>
<path d="M486,624.5 Q489,638 487.5,660" stroke-width="0.9"/>
<ellipse cx="468.5" cy="670.8" rx="2.8" ry="3.1" stroke-width="1"/>
<path d="M455.6,645 L459,650 L459,660 L455.6,664" stroke-width="1"/>
<path d="M457,820 Q455,845 441,848"/>
<!-- bottom stacked plates -->
<path d="M459.9,839.3 L441.5,855.5 Q437.6,860 437.6,866 L438.5,889.5 Q439,894 442,897 L456.2,909.1 L461,911"/>
<path d="M459,844 L444.5,857 Q441,861 441,866 L441.5,888 Q442,892 445,894.5 L458,905" stroke-width="1"/>
<path d="M448.7,867.2 L472,851.4 L482,855 M452,872 L476,856 L484,860 M441,870 Q444,866 448.7,867.2 L452,872 L452,890" stroke-width="1"/>
<path d="M455,876 L479,861 M457,879.5 L481,864.5" stroke-width="0.9"/>
<path class="kf" d="M462.7,880 Q463,874 469,874 L471,877.4 L484.1,870 L484.1,905 Q483,912 478,913 L466,915.6 Q462.7,914 462.7,909 Z"/>
<path d="M466,878 L466,912 M462.7,888 L484.1,880" stroke-width="1"/>
<path d="M471,877.4 L471,890" stroke-width="0.9"/>
<path class="kf" d="M472,886 Q472,880 478,879 L497,872 L499,920 L488,929 Q474,928 472,920 Z"/>
<path d="M475,888 Q476,882 481,882 L497,876 M477,890 Q478,885 483,885 L497,879.5 M479,893 Q480,888 485,888 L497,883 M481,896 Q482,891 487,891 L497,886.5 M483,899 Q484,894 489,894 L497,890" stroke-width="0.9"/>
<path d="M476,890 L476,922 M479,891 L479,924 M482,893 L482,925" stroke-width="0.9"/>
<path d="M459,830 Q462,836 459.9,839.3 M456.2,842.1 L456,830" stroke-width="1"/>
<circle cx="489.7" cy="860.7" r="2.2"/>
<path d="M492,855 L492,866 L484,868" stroke-width="1"/>
<path class="kf" d="M496,878 Q500,870 505,876 L506,888 Q502,894 497,888 Z" stroke-width="1"/>
<circle cx="500.8" cy="881.2" r="2"/>
</g>
<!-- row template -->
<defs>
<g id="hrow" class="k">
<!-- port on left flange -->
<path class="kf" d="M466,693 Q466,684.5 474,684.5 L482.5,684.5 Q490.2,684.5 490.2,693 L490.2,715 Q490.2,723.5 482.5,723.5 L474,723.5 Q466,723.5 466,715 Z" style="stroke-width:1.8"/>
<path d="M468,694 Q470,687.5 478,686.5" stroke-width="2"/>
<path d="M469,711 L487,689.5" stroke-width="1.5"/>
<path d="M476.5,721.5 L489.5,706.5" stroke-width="1.5"/>
<path d="M486,686 Q489,700 487.5,721" stroke-width="0.9"/>
<path d="M470,700 L478,690" stroke-width="0.9"/>
<ellipse cx="468.5" cy="732.2" rx="2.8" ry="3.1" stroke-width="1"/>
<path d="M457.9,724 Q462,728 462.3,730 Q459,735 459,740" stroke-width="1"/>
<path d="M490.5,724 Q494,730 496,733" stroke-width="1"/>
<!-- left saddle (bore) -->
<path class="kf" d="M514.5,694 Q516,683 527,683 Q538.7,684 538.7,695 Q538,702 535.9,702.7 Q527,709 516.4,702.7 Q514.5,700 514.5,694 Z"/>
<path d="M519.2,690 Q521,685.5 525.7,686.5 Q524,691 519.2,693 Z" stroke-width="1.2"/>
<path d="M514.5,694 Q526,699 538.7,695" stroke-width="0.9"/>
<path d="M538.7,686 L541,686 L541,705 M514.5,683 L517,680" stroke-width="1"/>
<!-- left block -->
<path class="kf" d="M507.1,713 L515,708.6 L525.7,714 L525.7,731 L518.3,731 L507.1,725 Z"/>
<path d="M507.1,713 L518.3,718.5 L525.7,714 M518.3,718.5 L518.3,731"/>
<path d="M509,716 L516,719.5 M509,719.5 L516,723" stroke-width="0.8"/>
<circle cx="522" cy="726" r="2.6"/><circle cx="522" cy="726" r="1.1" stroke-width="0.7"/>
<!-- bar and bearing -->
<path d="M525.7,706.8 L547.1,706.8 M525.7,715 L547.1,712"/>
<path d="M527,728 Q526.6,714 534,713.5 Q541.5,714 541.5,722 Q541,727 536,729"/>
<circle class="kf" cx="548" cy="710.8" r="3.2"/><circle cx="548" cy="710.8" r="1.3" stroke-width="0.8"/>
<!-- cam lobes -->
<path d="M513.6,736.5 Q520,731 530,731 Q540,730 547.1,723.6 Q551,721 554.5,721.7"/>
<path d="M514.5,740.2 Q520,735 530,735 Q540,735 547.1,742 Q552,744 559.2,742"/>
<path class="kf" d="M547.1,723.6 Q556,720 559.2,730 Q560,740 554,742 Q548,738 547.1,730 Z" stroke-width="1"/>
<path d="M549,726 L557,732 M549,731 L556,737 M550,736 L555,740 M552,723 L558,728" stroke-width="0.9"/>
<path d="M514.5,745 Q525,738 540,745" stroke-width="1.6"/>
<!-- channels left of oval -->
<path d="M555,683 Q550,690 550,700 Q552,708 556,712" stroke-width="1"/>
<path d="M552.5,681 Q546,690 547,702 Q549,710 553,715" stroke-width="1"/>
<path d="M550,719 L553,712 L557,713" stroke-width="1"/>
<!-- oval port & boss chain -->
<path class="kf" d="M557.3,698 Q557.3,681 567,680.3 L568,677.5 Q563.5,672 564,667 Q564.5,661 568,657.5 L567.5,652.5 L576.5,652.5 L576,657.5 Q578.8,661 578.8,667 Q578.8,672 575.5,677.5 L576,680.3 Q584.8,681.5 584.8,698 Q584.5,712.5 571,712.5 Q557.5,712 557.3,698 Z" stroke-width="1.4"/>
<ellipse cx="570.7" cy="697.6" rx="8.6" ry="10.6" transform="rotate(15 570.7 697.6)"/>
<path d="M565.5,691 Q563.5,698 566,705" stroke-width="0.8"/>
<ellipse cx="571.2" cy="667" rx="2.2" ry="2.6" stroke-width="1.1"/>
<path d="M553.5,686 Q549.5,698 553.5,710 M550.5,687 Q546.5,698 550.5,709" stroke-width="1"/>
<path class="kf" d="M572.9,651 L582,647 L591.9,652 L590,662.5 L578,662.5 Z" style="fill:url(#hatch)"/>
<path class="kf" d="M585,690 L593,687 L595.2,700 L593,711.6 L586,711.6 Q588,700 585,690 Z" style="fill:url(#hatch)"/>
<!-- right channels -->
<path d="M580,662 Q586,668 584,680 M583,660 Q590,668 587,682" stroke-width="1"/>
<path d="M581,718 Q588,725 586,738 M584,716 Q592,724 589,740" stroke-width="1"/>
<!-- right block -->
<path class="kf" d="M589,724 L596,716.3 L622.6,722 L622.6,740 L614,740 L589,734 Z"/>
<path d="M596,716.3 L600,726 L622.6,729 M600,726 L589,724 M600,726 L614,740"/>
<path d="M603,718 L607,727.5 M608,719 L612,728" stroke-width="0.8"/>
<circle cx="618.5" cy="733.5" r="2.6"/><circle cx="618.5" cy="733.5" r="1.1" stroke-width="0.7"/>
<ellipse cx="602.5" cy="734" rx="3.5" ry="1.5" stroke-width="1.1"/>
<circle class="kf" cx="591" cy="747.5" r="3"/>
<!-- extra hatch / density -->
<path d="M549,664 Q553,672 552,683 M551.5,663 Q556,671 555,682 M554,662 Q558.5,670 557.5,681" stroke-width="0.8"/>
<path d="M528,729 Q528,716.5 534.5,716 Q541.5,716.5 541.5,724" stroke-width="1"/>
<path d="M542,690 Q548,686 552,690 L552,704 Q548,708 542,704" stroke-width="1"/>
<path d="M509,690 L514,686 M509,700 L514,697 M509,738 L514,735" stroke-width="0.9"/>
<path d="M589,700 Q595,697 600,700 L600,712" stroke-width="0.9"/>
<path d="M606,742 L606,752 M611,742 L611,752" stroke-width="0.9"/>
<path d="M582.4,737 L595.8,734 L595.8,746 L588,749 L582.4,746 Z" stroke-width="1"/>
<path d="M602.5,742 L602.5,752 M604,742 L604,752 M598.1,742 L598.1,755" stroke-width="0.8"/>
<path d="M548,745 Q551,752 549,760 M545,746 Q548,753 546,761" stroke-width="0.9"/>
<path d="M514.5,707 Q527,712 541,706" stroke-width="0.9"/>
<path d="M516,680 Q526,676 538,680" stroke-width="1"/>
<path d="M518,749 Q528,744 540,748 M520,753 Q530,748 542,752" stroke-width="0.9"/>
<!-- right rail bits -->
<path d="M603,686.5 Q603,699.5 609,699.5 Q615,699.5 615,686.5" stroke-width="1"/>
<path d="M615,684.7 Q622,684 623.5,690 Q623,695.8 615,695.8" stroke-width="1"/>
<circle cx="617.9" cy="690.7" r="1.3" stroke-width="0.8"/>
</g>
</defs>
<clipPath id="hr1"><path d="M400,600 L490,600 L494,634 L605,574 L625,571 L700,571 V960 H400 Z"/></clipPath>
<g clip-path="url(#hr1)"><use href="#hrow" transform="translate(0,-61.5)"/></g>
<use href="#hrow"/>
<use href="#hrow" transform="translate(0,61.7)"/>
<clipPath id="hr4"><path d="M400,600 H700 V818 H586 V960 H400 Z"/></clipPath>
<g clip-path="url(#hr4)"><use href="#hrow" transform="translate(0,123.9)"/></g>
<g class="k">
<!-- bottom band -->
<path d="M499,918 L636,846"/>
<path d="M499,911 L629.6,844"/>
<path d="M488.7,927 L637,852" stroke-width="1"/>
<circle cx="536.8" cy="909.7" r="2.5"/><circle cx="585" cy="884.6" r="2.5"/><circle cx="632" cy="854.6" r="2.5"/>
<path d="M532,912 Q536,904 541,907 M580,887 Q585,879 590,882 M627,857 Q632,849 637,852" stroke-width="0.9"/>
<!-- bottom boss -->
<path class="kf" d="M519.2,877 Q520,867.5 535.5,867.5 Q552,868 552,877 L552,893 L540,900 L522,896 L519.2,890 Z"/>
<ellipse cx="535.5" cy="876" rx="13" ry="7.5"/>
<path d="M519.2,883 Q535,893 552,883" stroke-width="1"/>
<circle class="kf" cx="535.7" cy="898" r="3.5"/><circle class="kf" cx="561.5" cy="884" r="3.5"/>
<path d="M520,866 L520,858 L535,855 L550,860" stroke-width="0.9"/>
<path d="M552,877 L580,865 M552,886 L590,868" stroke-width="0.9"/>
<!-- right lower flange -->
<path d="M625,812 Q640,818 639,840" stroke-width="1"/>
<path class="kf" d="M592,838 Q595,825 607,825 Q620,826 622.5,835 L622.5,848.7 L592,848.7 Z"/>
<ellipse cx="607" cy="835" rx="5" ry="2.5"/>
<circle cx="634" cy="836" r="2.3"/>
</g>
<!-- ===== boxed engine ===== -->
<g class="k" id="engB">
<!-- intake upper tube -->
<path class="kf" d="M684.9,148 L729.5,137 Q741,134 748,142 Q755,152 753.3,163.7 Q750,176 741.4,180.5 L735.5,181 L704.2,197 L687.9,209.3 L683,205 Z"/>
<path d="M729.5,137.2 Q722,150 724,163 Q727,176 737,181" stroke-width="1.2"/>
<path d="M737,140.5 Q730,151 732,163 Q735,174 743,179.5" stroke-width="1.2"/>
<path d="M741,135.5 Q751,140 753.5,152 Q755,166 745,178.5" stroke-width="2"/>
<path class="kf" d="M686.4,154.8 Q712,160 735.5,169.6 Q715,173 698.3,174.6 Q689,168 686.4,154.8 Z" stroke-width="1.2"/>
<path d="M735.5,169.6 Q718,183 704.2,195 Q694,202 687.9,208.3"/>
<path d="M737,173 Q720,186 706,198 Q696,205 689,211" stroke-width="1"/>
<ellipse class="kf" cx="690.5" cy="163.5" rx="5.5" ry="9.5" transform="rotate(-35 690.5 163.5)" stroke-width="1.2"/>
<ellipse cx="690.5" cy="163.5" rx="2.4" ry="4" transform="rotate(-35 690.5 163.5)" stroke-width="1"/>
<path d="M684.9,151.5 L728,141" stroke-width="0.9"/>
<!-- lower tube -->
<path class="kf" d="M699.8,197.9 Q706,206 712,212 L719.1,214.3 Q731,215 735,229 Q736,243 732.5,248.5 L684.9,257 L670,272.3 L676,250 L688,214 Z"/>
<path d="M719.1,214.3 Q714,230 721,248.2" stroke-width="1.1"/>
<path d="M724,214.5 Q719,231 726,247.5" stroke-width="1.1"/>
<path d="M727,214.5 Q736,222 735.5,233 Q735,244 731,249" stroke-width="2"/>
<circle class="kf" cx="716.9" cy="223.2" r="5.2" stroke-width="1.2"/><circle cx="716.9" cy="223.2" r="2.5" stroke-width="1"/>
<path d="M732.5,251 L686,259.5 L672,275" stroke-width="1"/>
<path d="M688,214 Q700,222 705,232 M695,205 Q705,212 711,220" stroke-width="1"/>
<path d="M684,238 L714,243 M680,247 L716,248" stroke-width="0.9"/>
<!-- right ribbed body -->
<path class="kf" d="M639,113 L660,100 L683.3,97 L683.7,147 L688.8,205.4 L687,250 L640,255 Z"/>
<path d="M636.5,117.9 L682.6,103.8 M639,137.1 L682.6,119.2" stroke-width="1.3"/>
<path d="M647,125 L647,252 M651.3,124 L651.3,252 M659.6,121 L659.6,252 M663,120 L663,252 M670.7,117 L670.7,251 M673.8,116 L673.8,251 M680.5,112 L680.5,250"/>

<path d="M644,166 Q665,158 684,149.9 M644,171 Q665,163 684,155" stroke-width="1.3"/>
<path d="M644,195 Q665,185 685.4,171.2 M644,200 Q665,190 686,176" stroke-width="1.3"/>
<path d="M644,226 Q665,214 688.8,200.3 M644,231 Q665,219 688,205" stroke-width="1.3"/>
<!-- top cover region -->
<path class="kf" d="M578.8,101.2 Q582,88 596,84 L606,78 Q635,70 662,80 L663.4,87.1 L682.6,87.1 L682.6,121.7 L663,126 L640,128 L610,123 L583,121 Z"/>
<ellipse class="kf" cx="636.5" cy="90.3" rx="30.8" ry="14.7"/>
<ellipse cx="636.5" cy="89.7" rx="25.6" ry="9"/>
<ellipse cx="637" cy="88.5" rx="20" ry="5.5" stroke-width="0.9"/>
<path d="M608,96 Q630,108 664,95" stroke-width="1.8"/>
<path d="M610,101 Q635,112 664,100" stroke-width="1"/>
<path class="kf" d="M663.4,91 L680,87.1 L682.6,90 L682.6,120 L666,121.7 L663.4,117 Z"/>
<ellipse cx="673.6" cy="96.7" rx="5" ry="6"/><ellipse cx="674" cy="96.7" rx="2.6" ry="3.3" stroke-width="0.9"/>
<path d="M663.4,104 L682.6,100 M663.4,117 L636.5,117.9" stroke-width="1"/>
<path d="M640,121 L663,113 M645,126 L663,121" stroke-width="0.9"/>
<!-- nipple -->
<path class="kf" d="M630.4,62 L630.4,75 Q639,80 648.3,75 L648.3,62 Z"/>
<ellipse class="kf" cx="639.4" cy="62.2" rx="9.3" ry="3.8"/>
<ellipse cx="639.4" cy="62.5" rx="7" ry="2.6" stroke-width="1.3"/>
<path d="M630.4,71 Q639,75 648.3,71" stroke-width="0.9"/>
<!-- drum area (left) -->
<path class="kf" d="M575,138 Q570,125 578,110 Q585,104 596,104 L611,106 L611,358 L590,358 Q578,352 577,330 Z"/>
<path d="M569.3,131 Q570,120 573.6,118.1 Q578,110 583.2,108.5"/>
<defs>
<g id="lobeB" class="k">
<path class="kf" d="M592.3,144.5 L610.2,144.5 L610.2,163.5 L592.3,163.5 Z"/>
<path d="M592.3,147 L610.2,147.5 M597,144.5 L597,163.5" stroke-width="0.9"/>
<path class="kf" d="M576.7,148 L592.3,148 L592.3,161.3 L576.7,161.3 Z" stroke-width="1"/>
<circle cx="580.3" cy="155" r="2.6" stroke-width="1.1"/>
<path d="M585,148 L585,161.3" stroke-width="0.9"/>
<path d="M593.5,163.5 L593.5,176 Q594,182.5 601,182.5 L610.2,182.5"/>
<path d="M578,162.5 Q583,170 585,177"/>
<path class="kf" d="M576.7,176.9 L584.5,176.9 Q586,183 584.5,189.1 L576.7,189.1 Z" stroke-width="1"/>
<path d="M584.5,184.7 Q598,188 610.2,193.6"/>
<path d="M577.8,192.5 Q590,197 602.4,201.4"/>
<path d="M601.3,192.5 Q599,197 602.4,201.4 Q605,196 606.8,193" stroke-width="1"/>
<path d="M598,165 Q602,170 603,176" stroke-width="0.9"/>
</g>
</defs>
<use href="#lobeB"/>
<use href="#lobeB" transform="translate(0,58)"/>
<use href="#lobeB" transform="translate(0,116)"/>
<clipPath id="cb4"><rect x="540" y="300" width="100" height="48"/></clipPath>
<g clip-path="url(#cb4)"><use href="#lobeB" transform="translate(0,174)"/></g>
<path d="M575.6,132.3 Q583,133 590.1,139 L592.3,144.5" />
<path d="M577.8,337.5 Q590,345 605,350" stroke-width="1"/>
<path d="M574.7,138 L574.7,352 M577.5,138 L577.5,352" stroke-width="1.6"/>
<path d="M576,140 L576,350" stroke-width="2.2" stroke="#555"/>
<!-- regulator -->
<path class="kf" d="M583.3,108 Q583.3,103.8 597,103.8 Q610.9,103.8 610.9,108 L610.9,118 Q597,124 583.3,118 Z"/>
<ellipse cx="597" cy="108" rx="13.6" ry="4.5"/>
<path d="M583.5,114 Q597,119 610.7,114" stroke-width="1.8"/>
<path d="M586,119 L586,121.5 M608,119 L608,121.5" stroke-width="1"/>
<path class="kf" d="M589.7,88 L603.8,88 L603.8,104 Q597,107 589.7,104 Z"/>
<path d="M589.7,96 Q597,99 603.8,96 M589.7,100 Q597,103 603.8,100" stroke-width="1.2"/>
<path class="kf" d="M591,69.2 L603.8,69.2 L603.8,88 L591,88 Z"/>
<ellipse class="kf" cx="597.4" cy="69.2" rx="6.4" ry="2.6"/>
<path d="M591,77 L603.8,77 M591,82 L603.8,82 M594,77 L594,82 M597.4,77 L597.4,82 M600.8,77 L600.8,82" stroke-width="0.9"/>
<circle class="kf" cx="583.3" cy="95.5" r="3.6"/><circle cx="583.3" cy="95.5" r="1.6" stroke-width="0.8"/>
<circle class="kf" cx="622.4" cy="110.2" r="3.6"/><circle cx="622.4" cy="110.2" r="1.6" stroke-width="0.8"/>
<!-- central strap -->
<path class="kf" d="M610.4,124 Q611,120 619.5,119.5 L620.3,112 Q622,103 630.5,103 Q640,103 642.5,112 L644.4,352 Q641,362 627,363.7 Q612,362 610.4,352 Z"/>
<path d="M620,119.5 L620,354"/>
<path d="M637.5,117 L637.5,352"/>
<path d="M622.3,120 L622.3,350 M635.5,120 L635.5,350" stroke-width="2.6"/>
<g stroke-width="1">
<path d="M623.5,128 L634.5,128 M623.5,131 L634.5,131 M623.5,150 L634.5,150 M623.5,186 L634.5,186 M623.5,189 L634.5,189 M623.5,208 L634.5,208 M623.5,216 L634.5,216 M623.5,244 L634.5,244 M623.5,247 L634.5,247 M623.5,266 L634.5,266 M623.5,274 L634.5,274 M623.5,302 L634.5,302 M623.5,305 L634.5,305 M623.5,324 L634.5,324 M623.5,332 L634.5,332"/>
</g>
<g stroke-width="1.2">
<path d="M623,156 Q629,152 635,158 Q636,166 630,170 Q624,170 623,164 Z M626,160 Q630,157 633,162 Q631,166 627,165 Z"/>
<path d="M623,222 Q629,218 635,224 Q636,232 630,236 Q624,236 623,230 Z M626,226 Q630,223 633,228 Q631,232 627,231 Z"/>
<path d="M623,280 Q629,276 635,282 Q636,290 630,294 Q624,294 623,288 Z M626,284 Q630,281 633,286 Q631,290 627,289 Z"/>
<path d="M623,338 Q629,334 635,340 Q636,348 630,352 Q624,352 623,346 Z M626,342 Q630,339 633,344 Q631,348 627,347 Z"/>
<path d="M624,173 L634,178 M624,178 L634,183 M624,238 L634,243 M624,296 L634,301 M623,198 Q629,203 635,198 M623,256 Q629,261 635,256 M623,314 Q629,319 635,314"/>
</g>
<path d="M627,226 L631,232 M627,284 L631,290 M627,160 L631,166" stroke-width="2"/>
<path d="M637.5,150 L644,147 M637.5,208 L644,205 M637.5,266 L644,263 M637.5,324 L644,321" stroke-width="1"/>
<path d="M612.5,122 L612.5,350" stroke-width="0.8"/>
<!-- bottom / Y bracket -->
<path class="kf" d="M659,282 L681.4,276 L681.4,318 Q676,327 667,327.5 L659,322 Z"/>
<path d="M659,292 Q670,296 681.4,289 M659,296 Q670,300 681.4,293 M659,312 Q670,316 681.4,309 M659,316 Q670,320 681.4,313" stroke-width="1"/>
<path d="M664,282 L664,300 M668,281 L668,299 M672,280 L672,298 M676,279 L676,296" stroke-width="0.9"/>
<path class="kf" d="M644.4,253.5 L684,251 Q687.5,252 687.5,258 L687.5,271.4 L659,297 L646,301.5 L644.4,292 Z"/>
<path d="M687.5,271.4 L700,266 M659,297 L687,279" stroke-width="1"/>
<path class="kf" d="M645.6,262 Q646,254 654,254 Q661,255 663.5,262 L663.5,300 Q661,308.2 654,308.2 Q646,308 645.6,300 Z"/>
<path d="M646.5,268 Q654,264 663,268 M646.5,296 Q654,292 663,296" stroke-width="1"/>
<path d="M650,268 Q648,282 650,296" stroke-width="0.9"/>
<path d="M663.5,262 Q668,258 670,254 M663.5,300 Q668,304 672,302" stroke-width="1.6"/>
<path d="M640,232 Q645,248 640,255 M646,245 L660,240" stroke-width="1"/>
<path class="kf" d="M643.5,318 L652,316 Q656,330 654,350 L650,360 L643.5,361 Z"/>
<circle cx="644.3" cy="349.3" r="4.5" stroke-width="1.2"/><circle cx="644.3" cy="349.3" r="2.2" stroke-width="1"/>
<path d="M640,326 Q646,322 651,330 M639,336 Q645,332 652,340" stroke-width="1"/>
<path d="M652,330 L662,328 L664,338 L654,342" stroke-width="1"/>
<circle cx="612" cy="357" r="2.5"/>
<!-- fuel rail -->
<path class="kf" d="M554,135.2 L575.2,135.2 L575.2,351.4 L554,351.4 Z"/>
<path d="M564,137 L564,350 M570,137 L570,350"/>
<path d="M554,138.4 L575.2,138.4" stroke-width="1"/>
<path class="kf" d="M557,124 L565,124 L565,135.2 L557,135.2 Z"/>
<ellipse class="kf" cx="561" cy="124" rx="4" ry="1.8"/>
<path d="M557,128 L565,128 M557,131.5 L565,131.5" stroke-width="1"/>
<path class="kf" d="M565,129 L570,128 L572,135.2 L566,135.2 Z" stroke-width="1"/>
<path class="kf" d="M559.7,351.4 L570.3,351.4 L570.3,361 Q565,366 559.7,361 Z"/>
<path d="M559.7,355.5 L570.3,355.5" stroke-width="0.9"/>
</g>
</g>
<!-- hose 10 -->
<g fill="none" stroke-linejoin="round">
<path d="M784.5,214 L783.5,258 Q783,263 784,268 L801,338 L801,385 Q801.5,395 809,390 L842,362 Q852,357 850,370 L842.5,392 L841.5,452" stroke="#2a2a2a" stroke-width="12.4"/>
<path d="M784.5,214 L783.5,258 Q783,263 784,268 L801,338 L801,385 Q801.5,395 809,390 L842,362 Q852,357 850,370 L842.5,392 L841.5,452" stroke="#fff" stroke-width="9.8"/>
</g>
<g class="k" stroke-width="1">
<path class="kf" d="M766,183.4 L781.9,188 Q790,190 791.2,203 L777.8,203 Q778,200.5 776,199.5 L766.5,195.4 Z"/>
<ellipse class="kf" cx="766.3" cy="189.4" rx="2.6" ry="6.1" transform="rotate(18 766.3 189.4)"/>
<path d="M774.2,186 Q771.5,192 774,198 M777.5,187 Q775,193 777.5,199 M779.5,188 Q777.5,193.5 779.5,199.5" stroke-width="1.1"/>
<path d="M781.9,188 Q780,193 779.5,199.5 M784,193 Q788,193 790,197" stroke-width="1"/>
<path class="kf" d="M777.6,202 L791.5,202 L791.5,206.7 L777.6,206.7 Z"/>
<path class="kf" d="M778,206.7 L791,206.7 L791,215.8 L778,215.8 Z"/>
<path d="M778,217 L790.5,217 M778,218.6 L790.5,218.6 M778,220.2 L790.5,220.2" stroke-width="1.2"/>
<path d="M787.5,220 L787.5,256"/>
<path d="M778.5,258 Q784,262 789,258 M777,266 Q783,268 789.5,264"/>
<path d="M793.5,332 Q800,336 806,332 M795.7,340 Q801,343 806.4,340"/>
<path d="M798,342 L798,380" stroke-width="0.8"/>
<path d="M795.7,382 Q801,385 806.4,382"/>
<path d="M817,381 Q822,387 819,392 M829,370 Q834,376 831,383"/>
<path d="M840.5,365 Q846,370 852,366 M838.5,388 Q843,392 847.5,389"/>
<path d="M836.5,420 L847.5,420 M845,395 L845,445" stroke-width="0.8"/>
<path class="kf" d="M835,447 L848.5,447 L848.5,456 L835,456 Z"/>
<path d="M835,450 L848.5,450 M835,453 L848.5,453" stroke-width="0.8"/>
<path class="kf" d="M834.2,459 L838,456 L846,456 L851.5,459 L852.4,474 L848,477 L838,477 L834,474 Z"/>
<path d="M838,459 L838,477 M846,459 L846,477 M834.2,459 Q843,462 851.5,459" stroke-width="0.9"/>
</g>
<!-- bolt 11 -->
<g class="k" transform="translate(682.7,375.2) rotate(26.4)">
<path class="kf" d="M0,-3.8 L16.5,-3.8 L16.5,3.8 L0,3.8 Q-1.8,0 0,-3.8 Z"/>
<path d="M2,3.6 L15.5,3.6 M3,3.6 L4,2 M5,3.6 L6,2 M7,3.6 L8,2 M9,3.6 L10,2 M11,3.6 L12,2 M13,3.6 L14,2" stroke-width="0.9"/>
<ellipse class="kf" cx="17.8" cy="0" rx="2.8" ry="8.8"/>
<path class="kf" d="M18.8,-6.6 L21.2,-7.5 L24.6,-7.5 L26.2,-4 L26.2,4 L24.6,7.5 L21.2,7.5 L18.8,6.6 Z"/>
<ellipse class="kf" cx="25.6" cy="0" rx="2.9" ry="6.9"/>
<path d="M21.2,-7.5 L21.2,7.5 M19,-3 L24.6,-3.6" stroke-width="0.9"/>
</g>
<!-- bolt 12 -->
<g class="k" transform="translate(821.5,285.8) rotate(25.1)">
<path class="kf" d="M0,-3.3 L45.5,-3.3 L45.5,3.3 L0,3.3 Q-1.6,0 0,-3.3 Z"/>
<path d="M1,-3 L44,-3" stroke-width="1.6"/>
<path d="M19,1 L19,3.3" stroke-width="0.9"/>
<ellipse class="kf" cx="46.5" cy="0" rx="2.4" ry="7.4"/>
<path class="kf" d="M47.3,-5.6 L49.3,-6.3 L52.3,-6.3 L53.6,-3.3 L53.6,3.3 L52.3,6.3 L49.3,6.3 L47.3,5.6 Z"/>
<ellipse class="kf" cx="53.2" cy="0" rx="2.5" ry="5.7"/>
<path d="M49.3,-6.3 L49.3,6.3 M47.5,-2.6 L52.3,-3" stroke-width="0.9"/>
</g>
<!-- nut 1 -->
<g class="k">
<path class="kf" d="M161.5,664 Q161,659 165,658 L171,657.7 Q175,658.5 175,663 L174.5,668.5 Q172.5,672.6 167,672.6 Q162,672 161.5,668 Z"/>
<ellipse cx="166.5" cy="666" rx="4.6" ry="5.8" transform="rotate(-20 166.5 666)"/>
<ellipse cx="166.5" cy="666" rx="2.4" ry="3.4" transform="rotate(-20 166.5 666)" stroke-width="0.9"/>
<path d="M169,658 Q173,662 172,670" stroke-width="0.9"/>
</g>
<!-- bolt 2 -->
<g class="k">
<path class="kf" d="M0,-2 L18,-2 L18,2 L0,2 Z" transform="translate(237,647.5) rotate(-26)"/>
<path d="M10,-2 L18,-2 M11,2 L18,2 M12,-2 L12,2 M14,-2 L14,2 M16,-2 L16,2" transform="translate(237,647.5) rotate(-26)" stroke-width="0.8"/>
<ellipse class="kf" cx="236.6" cy="648.5" rx="4.6" ry="6.2" transform="rotate(-26 236.6 648.5)"/>
<path class="kf" d="M232.5,645 L235,642.8 L240,643 L241.3,647 L240,652 L236,654.5 L233,652.5 Z"/>
<path d="M235,645.5 L238.5,650.5 M238.5,645 L235,651" stroke-width="0.8"/>
</g>
<!-- dashed -->
<g class="ds">
<path d="M159.2,276 L157,677"/>
<path d="M177.6,660.7 L212,641.3 L212.3,689.7 L219.4,686.7"/>
<path d="M256.8,637.5 L274.7,626.3 L276,740"/>
<path d="M307.6,721 L463,634.4"/>
<path d="M690,143 L766,188"/>
<path d="M660,362.7 L681,373.5"/>
<path d="M734.6,235.2 L820,283"/>
</g>
</svg>
</body></html>
